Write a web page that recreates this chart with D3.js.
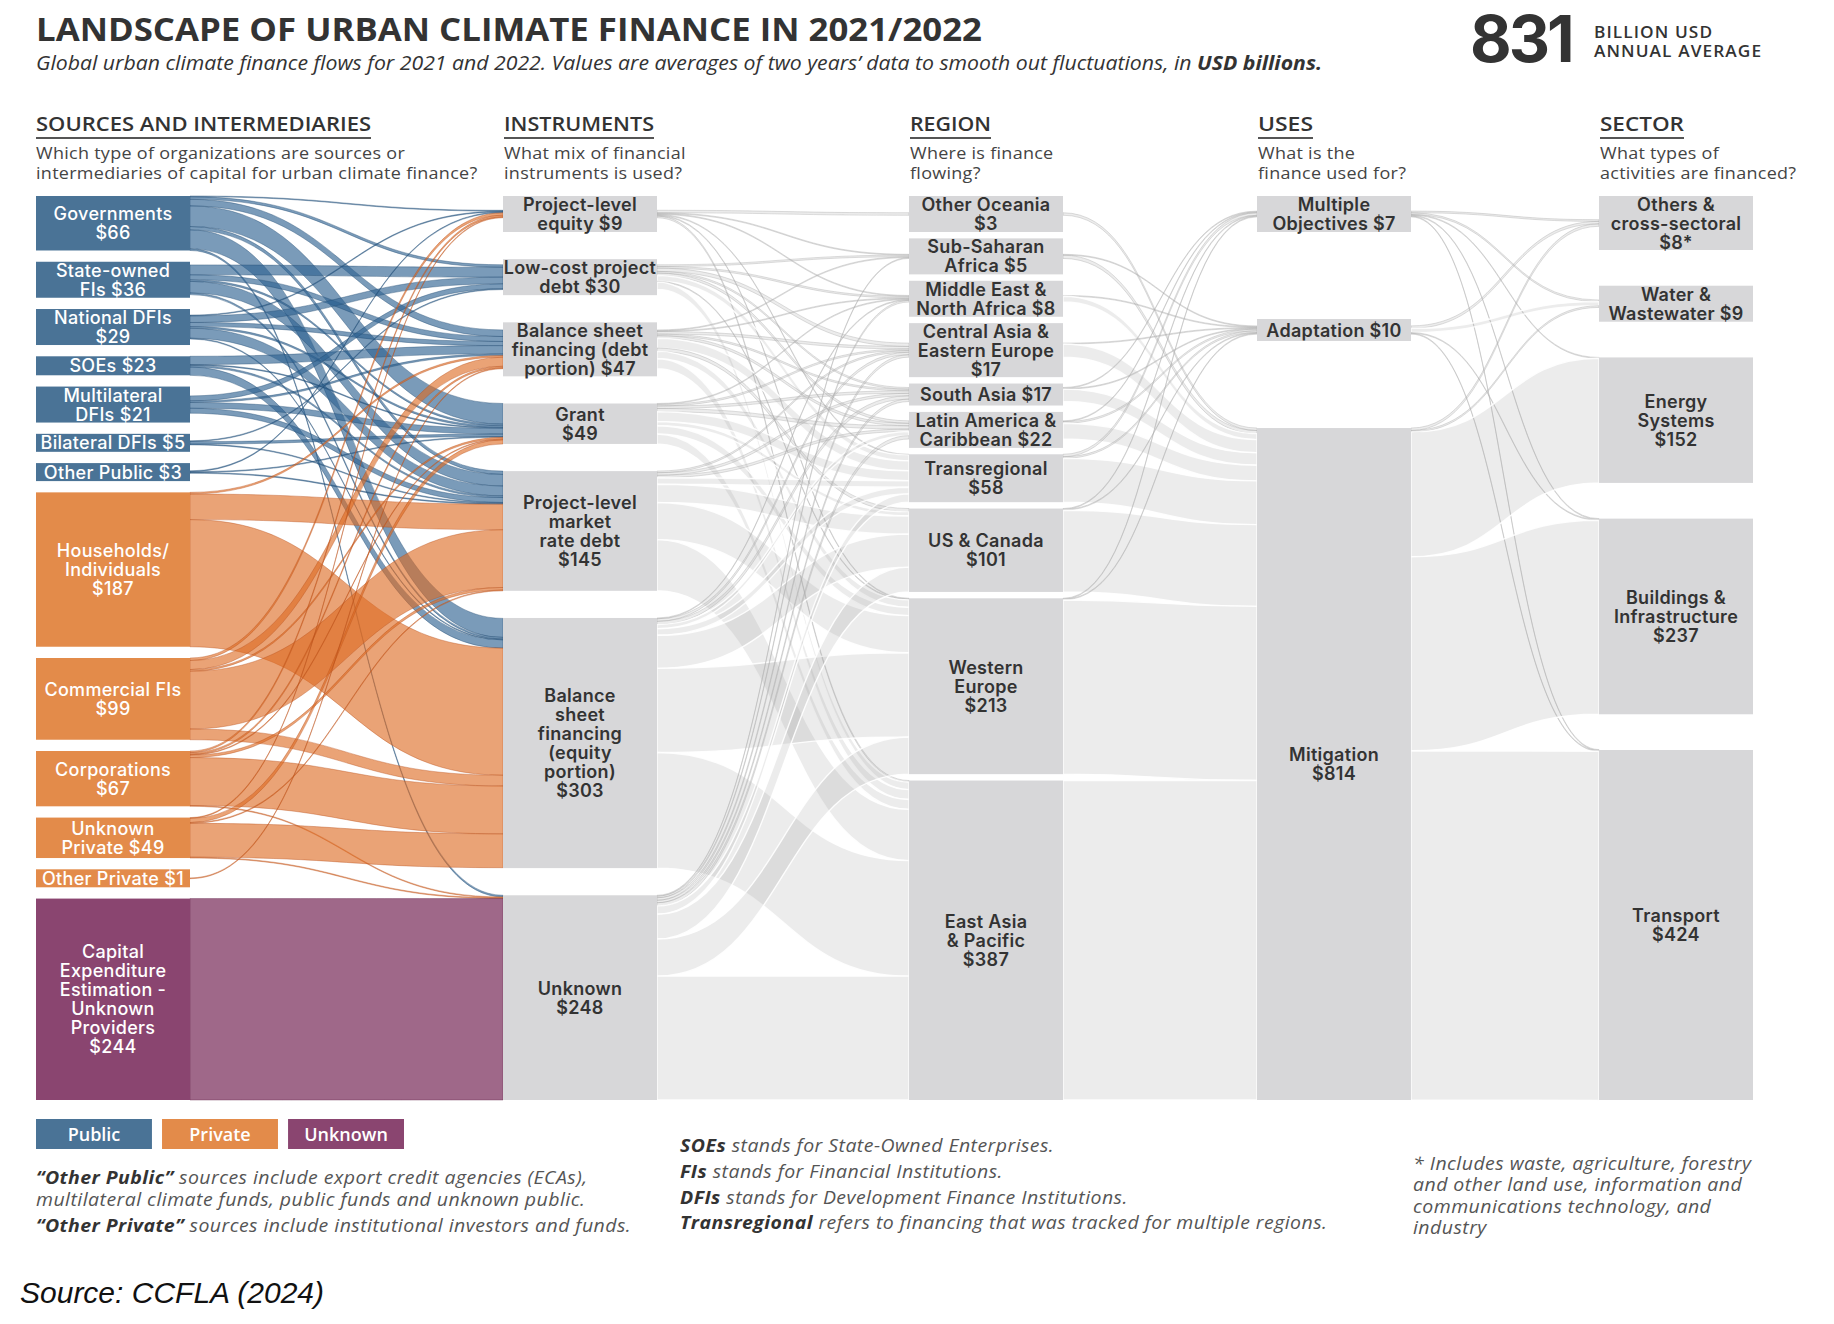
<!DOCTYPE html>
<html><head><meta charset="utf-8">
<script src="https://cdn.jsdelivr.net/npm/d3@7"></script>
<style>body{margin:0;background:#fff}svg{display:block}</style>
</head><body>
<svg id="chart" width="1834" height="1324"></svg>
<script>
// ---------------- DATA ----------------
const sourceLabels = ["Governments\n${v}", "State-owned\nFIs ${v}", "National DFIs\n${v}", "SOEs ${v}", "Multilateral\nDFIs ${v}", "Bilateral DFIs ${v}", "Other Public ${v}", "Households/\nIndividuals\n${v}", "Commercial FIs\n${v}", "Corporations\n${v}", "Unknown\nPrivate ${v}", "Other Private ${v}", "Capital\nExpenditure\nEstimation -\nUnknown\nProviders\n${v}"];
const sourceValues = [66, 36, 29, 23, 21, 5, 3, 187, 99, 67, 49, 1, 244];
const sourceGroups = ["Public", "Public", "Public", "Public", "Public", "Public", "Public", "Private", "Private", "Private", "Private", "Private", "Unknown"];

const instrumentLabels = ["Project-level\nequity ${v}", "Low-cost project\ndebt ${v}", "Balance sheet\nfinancing (debt\nportion) ${v}", "Grant\n${v}", "Project-level\nmarket\nrate debt\n${v}", "Balance\nsheet\nfinancing\n(equity\nportion)\n${v}", "Unknown\n${v}"];
const instrumentValues = [9, 30, 47, 49, 145, 303, 248];

const regionLabels = ["Other Oceania\n${v}", "Sub-Saharan\nAfrica ${v}", "Middle East &\nNorth Africa ${v}", "Central Asia &\nEastern Europe\n${v}", "South Asia ${v}", "Latin America &\nCaribbean ${v}", "Transregional\n${v}", "US & Canada\n${v}", "Western\nEurope\n${v}", "East Asia\n& Pacific\n${v}"];
const regionValues = [3, 5, 8, 17, 17, 22, 58, 101, 213, 387];

const useLabels = ["Multiple\nObjectives ${v}", "Adaptation ${v}", "Mitigation\n${v}"];
const useValues = [7, 10, 814];

const sectorLabels = ["Others &\ncross-sectoral\n${v}*", "Water &\nWastewater ${v}", "Energy\nSystems\n${v}", "Buildings &\nInfrastructure\n${v}", "Transport\n${v}"];
const sectorValues = [8, 9, 152, 237, 424];

const totalValue = 831;

// flows: [from index, to index, USD bn]
const sourceToInstrument = [
  [0,0,1],[0,1,3],[0,2,8],[0,3,25],[0,4,4],[0,5,23],[0,6,2],
  [1,1,12],[1,2,6],[1,3,2],[1,4,14],[1,5,2],
  [2,0,1],[2,1,8],[2,2,5],[2,3,2],[2,4,12],[2,5,1],
  [3,2,10],[3,3,1],[3,4,2],[3,5,10],
  [4,1,6],[4,2,2],[4,3,7],[4,4,6],
  [5,1,1],[5,3,3],[5,4,1],
  [6,0,1],[6,3,1],[6,4,1],
  [7,2,2],[7,4,31],[7,5,154],
  [8,0,3],[8,2,11],[8,3,2],[8,4,70],[8,5,13],
  [9,0,2],[9,2,2],[9,3,1],[9,4,3],[9,5,58],[9,6,1],
  [10,0,1],[10,3,5],[10,4,1],[10,5,41],[10,6,1],
  [11,2,1],
  [12,6,244]
];
const instrumentToRegion = [
  [0,0,3],[0,1,1],[0,2,1],[0,6,1],[0,8,1],[0,9,2],
  [1,1,2],[1,2,2],[1,3,4],[1,4,2],[1,5,3],[1,6,7],[1,8,1],[1,9,9],
  [2,1,1],[2,2,1],[2,3,3],[2,4,2],[2,5,3],[2,6,12],[2,7,4],[2,8,9],[2,9,12],
  [3,2,1],[3,3,2],[3,4,3],[3,5,4],[3,6,12],[3,7,5],[3,8,10],[3,9,12],
  [4,3,2],[4,4,3],[4,5,3],[4,6,8],[4,7,22],[4,8,45],[4,9,62],
  [5,2,1],[5,3,3],[5,4,4],[5,5,5],[5,6,8],[5,7,40],[5,8,102],[5,9,140],
  [6,1,1],[6,2,2],[6,3,3],[6,4,3],[6,5,4],[6,6,10],[6,7,30],[6,8,45],[6,9,150]
];
const regionToUse = [
  [0,2,3],
  [1,1,1],[1,2,4],
  [2,1,1],[2,2,7],
  [3,1,1],[3,2,16],
  [4,0,1],[4,1,1],[4,2,15],
  [5,0,1],[5,1,2],[5,2,19],
  [6,0,3],[6,1,2],[6,2,53],
  [7,0,1],[7,1,1],[7,2,99],
  [8,0,1],[8,1,1],[8,2,211],
  [9,2,387]
];
const useToSector = [
  [0,0,2],[0,1,2],[0,2,1],[0,3,1],[0,4,1],
  [1,0,3],[1,1,5],[1,3,1],[1,4,1],
  [2,0,3],[2,1,2],[2,2,151],[2,3,235],[2,4,423]
];

const legendItems = ["Public", "Private", "Unknown"];

// ---------------- STYLE / LAYOUT ----------------
const nodeColor = {Public: "#4a7396", Private: "#e38b4a", Unknown: "#8a4570"};
const linkColor = {Public: "#2f6391", Private: "#dd6a22", Unknown: "#7a2e5c"};
const linkOpacity = {Public: 0.64, Private: 0.62, Unknown: 0.72};
const linkEdge = {Public: "#1f4a70", Private: "#b9501a", Unknown: "#5e2046"};
const grayNode = "#d7d7d9";

const colX = [36, 503, 909, 1257, 1599];
const nodeW = 154;
const yTop = 196, yBottom = 1100;
const k = d3.scaleLinear().domain([0, totalValue]).range([0, 686]);
const lineH = 19, perLine = 18;

const svg = d3.select("#chart");

function layoutColumn(labels, values, ci, groups) {
  const nodes = values.map((v, i) => {
    const text = labels[i].replace("{v}", v);
    const lines = text.split("\n");
    return {i, v, lines, col: ci, x: colX[ci], group: groups ? groups[i] : null,
            h: Math.max(k(v), lines.length * perLine + (lines.length === 1 && !groups ? 4 : 0))};
  });
  const sum = d3.sum(nodes, d => d.h);
  const pad = (yBottom - yTop - sum) / (nodes.length - 1);
  let y = yTop;
  nodes.forEach(n => { n.y0 = y; n.y1 = y + n.h; y += n.h + pad; });
  return nodes;
}

function buildLinks(src, tgt, flows) {
  const links = flows.map(([s, t, v]) => ({s: src[s], t: tgt[t], v, w: k(v)}));
  src.forEach(n => {
    const out = links.filter(l => l.s === n).sort((a, b) => a.t.i - b.t.i);
    let y = (n.y0 + n.y1) / 2 - d3.sum(out, l => l.w) / 2;
    out.forEach(l => { l.sy0 = y; y += l.w; l.sy1 = y; });
  });
  tgt.forEach(n => {
    const inc = links.filter(l => l.t === n).sort((a, b) => a.s.i - b.s.i);
    let y = (n.y0 + n.y1) / 2 - d3.sum(inc, l => l.w) / 2;
    inc.forEach(l => { l.ty0 = y; y += l.w; l.ty1 = y; });
  });
  return links;
}

function ribbon(l) {
  const x0 = l.s.x + nodeW, x1 = l.t.x, xm = (x0 + x1) / 2;
  const p = d3.path();
  p.moveTo(x0, l.sy0);
  p.bezierCurveTo(xm, l.sy0, xm, l.ty0, x1, l.ty0);
  p.lineTo(x1, l.ty1);
  p.bezierCurveTo(xm, l.ty1, xm, l.sy1, x0, l.sy1);
  p.closePath();
  return p.toString();
}

const sources = layoutColumn(sourceLabels, sourceValues, 0, sourceGroups);
const instruments = layoutColumn(instrumentLabels, instrumentValues, 1);
const regions = layoutColumn(regionLabels, regionValues, 2);
const uses = layoutColumn(useLabels, useValues, 3);
const sectors = layoutColumn(sectorLabels, sectorValues, 4);

const L1 = buildLinks(sources, instruments, sourceToInstrument);
const L2 = buildLinks(instruments, regions, instrumentToRegion);
const L3 = buildLinks(regions, uses, regionToUse);
const L4 = buildLinks(uses, sectors, useToSector);

// gray links
const gLinks = svg.append("g");
[L2, L3, L4].forEach(L => {
  gLinks.selectAll(null).data(L).join("path")
    .attr("d", ribbon)
    .attr("fill", "#9a9a9a").attr("fill-opacity", 0.19)
    .attr("stroke", d => d.w < 4 ? "#b0b0b0" : "#ffffff")
    .attr("stroke-width", d => d.w < 4 ? 0.6 : 1.4)
    .attr("stroke-opacity", d => d.w < 4 ? 0.7 : 0.9);
});

// colored links
svg.append("g").selectAll("path").data(L1).join("path")
  .attr("d", ribbon)
  .attr("fill", d => linkColor[d.s.group])
  .attr("fill-opacity", d => linkOpacity[d.s.group])
  .attr("stroke", d => linkEdge[d.s.group])
  .attr("stroke-width", 0.7)
  .attr("stroke-opacity", 0.55);

// nodes
const allNodes = [].concat(sources, instruments, regions, uses, sectors);
svg.append("g").selectAll("rect").data(allNodes).join("rect")
  .attr("x", d => d.x).attr("y", d => d.y0)
  .attr("width", nodeW).attr("height", d => d.h)
  .attr("fill", d => d.group ? nodeColor[d.group] : grayNode);

// node labels
const lab = svg.append("g").selectAll("text").data(allNodes).join("text")
  .attr("x", d => d.x + nodeW / 2)
  .attr("text-anchor", "middle")
  .attr("font-family", "Inter, 'Open Sans', sans-serif")
  .attr("font-size", 18)
  .attr("letter-spacing", "0.3px")
  .attr("font-weight", d => d.group ? 500 : 600)
  .attr("fill", d => d.group ? "#ffffff" : "#333333")
  .attr("y", d => (d.y0 + d.y1) / 2 - (d.lines.length - 1) * lineH / 2 + 6.5);
lab.each(function(d) {
  const t = d3.select(this);
  d.lines.forEach((s, j) => {
    t.append("tspan").attr("x", d.x + nodeW / 2).attr("dy", j === 0 ? 0 : lineH).text(s);
  });
});

// ---------------- TITLES ----------------
svg.append("text").attr("x", 36).attr("y", 41)
  .attr("font-family", "'Open Sans', sans-serif").attr("font-weight", 700)
  .attr("font-size", 33).attr("fill", "#333")
  .attr("textLength", 946).attr("lengthAdjust", "spacingAndGlyphs")
  .text("LANDSCAPE OF URBAN CLIMATE FINANCE IN 2021/2022");

const sub = svg.append("text").attr("x", 36).attr("y", 70)
  .attr("font-family", "'Open Sans', sans-serif").attr("font-style", "italic")
  .attr("font-size", 19.5).attr("fill", "#333")
  .attr("textLength", 1286).attr("lengthAdjust", "spacingAndGlyphs");
sub.append("tspan").text("Global urban climate finance flows for 2021 and 2022. Values are averages of two years\u2019 data to smooth out fluctuations, in ");
sub.append("tspan").attr("font-weight", 700).text("USD billions.");

svg.append("text").attr("x", 1470).attr("y", 62)
  .attr("font-family", "Inter, 'Open Sans', sans-serif").attr("font-weight", 700)
  .attr("font-size", 64).attr("fill", "#333").attr("letter-spacing", "-3px")
  .text(totalValue);
const bu = svg.append("g").attr("transform", "translate(1594,0) scale(1.08,1)");
[["BILLION USD", 38.5], ["ANNUAL AVERAGE", 57]].forEach(([s, y]) => {
  bu.append("text").attr("x", 0).attr("y", y)
    .attr("font-family", "'Open Sans', sans-serif").attr("font-weight", 600)
    .attr("font-size", 16).attr("letter-spacing", "1px").attr("fill", "#333").text(s);
});

// column headers
const headers = [
  {t: "SOURCES AND INTERMEDIARIES", w: 335, s: ["Which type of organizations are sources or", "intermediaries of capital for urban climate finance?"]},
  {t: "INSTRUMENTS", w: 150, s: ["What mix of financial", "instruments is used?"]},
  {t: "REGION", w: 81, s: ["Where is finance", "flowing?"]},
  {t: "USES", w: 55, s: ["What is the", "finance used for?"]},
  {t: "SECTOR", w: 84, s: ["What types of", "activities are financed?"]}
];
headers.forEach((h, i) => {
  const x = colX[i] + (i === 0 ? 0 : 1);
  svg.append("text").attr("x", x).attr("y", 131)
    .attr("font-family", "'Open Sans', sans-serif").attr("font-weight", 600)
    .attr("font-size", 20).attr("fill", "#333")
    .attr("textLength", h.w).attr("lengthAdjust", "spacingAndGlyphs").text(h.t);
  svg.append("line").attr("x1", x).attr("x2", x + h.w).attr("y1", 138).attr("y2", 138)
    .attr("stroke", "#555").attr("stroke-width", 2);
  const sg = svg.append("g").attr("transform", `translate(${x},0) scale(1.125,1)`);
  h.s.forEach((s, j) => {
    sg.append("text").attr("x", 0).attr("y", 159.5 + j * 19.5)
      .attr("font-family", "'Open Sans', sans-serif").attr("font-size", 16)
      .attr("letter-spacing", "0.25px").attr("fill", "#444").text(s);
  });
});

// legend
const legendX = d3.scaleBand().domain(legendItems).range([36, 404]).paddingInner(0.08);
const lg = svg.append("g").selectAll("g").data(legendItems).join("g");
lg.append("rect").attr("x", d => legendX(d)).attr("y", 1119)
  .attr("width", legendX.bandwidth()).attr("height", 30)
  .attr("fill", d => nodeColor[d]);
lg.append("text").attr("x", d => legendX(d) + legendX.bandwidth() / 2).attr("y", 1140.5)
  .attr("text-anchor", "middle").attr("font-family", "'Open Sans', sans-serif")
  .attr("font-weight", 600).attr("font-size", 18).attr("fill", "#fff").text(d => d);

// footnotes
function block(x, lines) {
  const g = svg.append("g").attr("transform", `translate(${x},0) scale(1.083,1)`);
  lines.forEach(([ly, parts]) => {
    const t = g.append("text").attr("x", 0).attr("y", ly)
      .attr("font-family", "'Open Sans', sans-serif").attr("font-style", "italic")
      .attr("font-size", 18).attr("letter-spacing", "0.42px").attr("fill", "#555");
    parts.forEach(p => t.append("tspan").attr("font-weight", p[1] ? 700 : 400)
      .attr("fill", p[1] ? "#333" : "#555").text(p[0]));
  });
}
block(36, [
  [1184, [["\u201cOther Public\u201d", 1], [" sources include export credit agencies (ECAs),", 0]]],
  [1206, [["multilateral climate funds, public funds and unknown public.", 0]]],
  [1232, [["\u201cOther Private\u201d", 1], [" sources include institutional investors and funds.", 0]]]
]);
block(680, [
  [1152, [["SOEs", 1], [" stands for State-Owned Enterprises.", 0]]],
  [1178, [["FIs", 1], [" stands for Financial Institutions.", 0]]],
  [1204, [["DFIs", 1], [" stands for Development Finance Institutions.", 0]]],
  [1229, [["Transregional", 1], [" refers to financing that was tracked for multiple regions.", 0]]]
]);
block(1413, [
  [1170, [["* Includes waste, agriculture, forestry", 0]]],
  [1191, [["and other land use, information and", 0]]],
  [1213, [["communications technology, and", 0]]],
  [1234, [["industry", 0]]]
]);

svg.append("text").attr("x", 20).attr("y", 1303)
  .attr("font-family", "'Liberation Sans', Arial, sans-serif").attr("font-style", "italic")
  .attr("font-size", 30).attr("fill", "#111").text("Source: CCFLA (2024)");
</script>
</body></html>
